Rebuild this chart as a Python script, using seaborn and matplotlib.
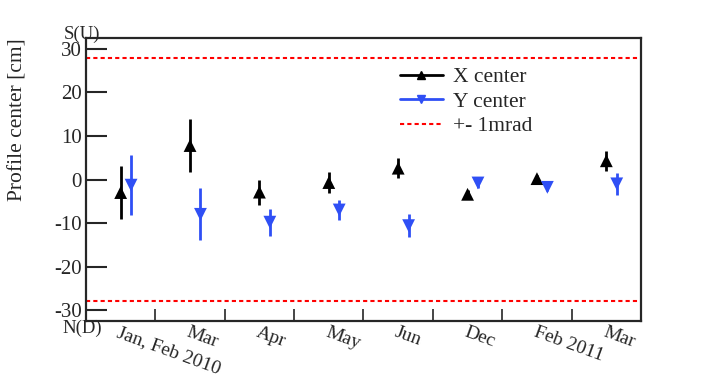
import numpy as np
import pandas as pd
import matplotlib
matplotlib.use("Agg")
import matplotlib.pyplot as plt
from matplotlib.lines import Line2D
import seaborn as sns

# data
months = ["Jan, Feb 2010", "Mar", "Apr", "May", "Jun", "Dec", "Feb 2011", "Mar"]
x_center = [-3.0, 7.8, -2.9, -0.7, 2.6, -3.4, 0.2, 4.3]
x_err = [6.0, 6.0, 2.9, 2.4, 2.3, 1.0, 0.8, 2.3]
y_center = [-1.3, -8.0, -9.8, -7.0, -10.6, -0.8, -1.8, -1.0]
y_err = [6.9, 6.0, 3.1, 2.4, 2.7, 1.2, 0.8, 2.5]
mrad_limit = 28.0

blue = "#2f4ff5"

sns.set_style("ticks")
plt.rcParams["font.family"] = ["Liberation Serif", "DejaVu Serif"]

pos = np.arange(len(months)) + 0.5
df = pd.DataFrame({
    "pos": np.concatenate([pos, pos + 0.15]),
    "val": x_center + y_center,
    "err": x_err + y_err,
    "kind": ["X center"] * len(months) + ["Y center"] * len(months),
})

fig = plt.figure(figsize=(7.14, 3.82), dpi=100)
ax = fig.add_axes([0.1204, 0.1597, 0.7774, 0.7408])

for kind, col in [("X center", "black"), ("Y center", blue)]:
    d = df[df["kind"] == kind]
    ax.vlines(d["pos"], d["val"] - d["err"], d["val"] + d["err"], color=col, lw=2)
sns.scatterplot(data=df, x="pos", y="val", hue="kind", style="kind",
                palette={"X center": "black", "Y center": blue},
                markers={"X center": "^", "Y center": "v"},
                s=85, edgecolor="none", legend=False, ax=ax, zorder=3)

ax.axhline(mrad_limit, color="red", ls=(0, (2, 1.5)), lw=1.5)
ax.axhline(-mrad_limit, color="red", ls=(0, (2, 1.5)), lw=1.5)

ax.set_xlim(0, len(months))
ax.set_ylim(-32.5, 32.5)
ax.set_yticks([-30, -20, -10, 0, 10, 20, 30])
ax.set_yticklabels(["-30", "-20", "-10", "0", "10", "20", "30"], fontsize=15)
ax.set_xticks(np.arange(1, len(months)))
ax.set_xticklabels([])
ax.set_xticks(pos, minor=True)
ax.set_xticklabels(months, minor=True, fontsize=14, rotation=-20,
                   ha="left", va="top", rotation_mode="anchor")
ax.tick_params(axis="y", direction="in", length=15, width=1.5, pad=3)
ax.tick_params(axis="x", which="major", direction="in", length=9, width=1.2)
ax.tick_params(axis="x", which="minor", length=0, pad=2)
ax.set_xlabel("")
ax.set_ylabel("Profile center [cm]", fontsize=15.5, loc="top")
ax.yaxis.set_label_coords(-0.106, 1.0)
for sp in ax.spines.values():
    sp.set_linewidth(1.6)

ax.text(-0.007, 1.012, "S(U)", transform=ax.transAxes, ha="center", va="center", fontsize=13.5)
ax.text(-0.007, -0.027, "N(D)", transform=ax.transAxes, ha="center", va="center", fontsize=13.5)

handles = [
    Line2D([], [], color="black", lw=2, marker="^", markersize=6),
    Line2D([], [], color=blue, lw=2, marker="v", markersize=6),
    Line2D([], [], color="red", lw=1.5, ls=(0, (2, 1.5))),
]
ax.legend(handles, ["X center", "Y center", "+- 1mrad"], loc="upper left",
          bbox_to_anchor=(0.53, 0.965), frameon=False, fontsize=15.5,
          handlelength=2.0, handletextpad=0.5, labelspacing=0.2)

fig.savefig("out.png", dpi=100)
